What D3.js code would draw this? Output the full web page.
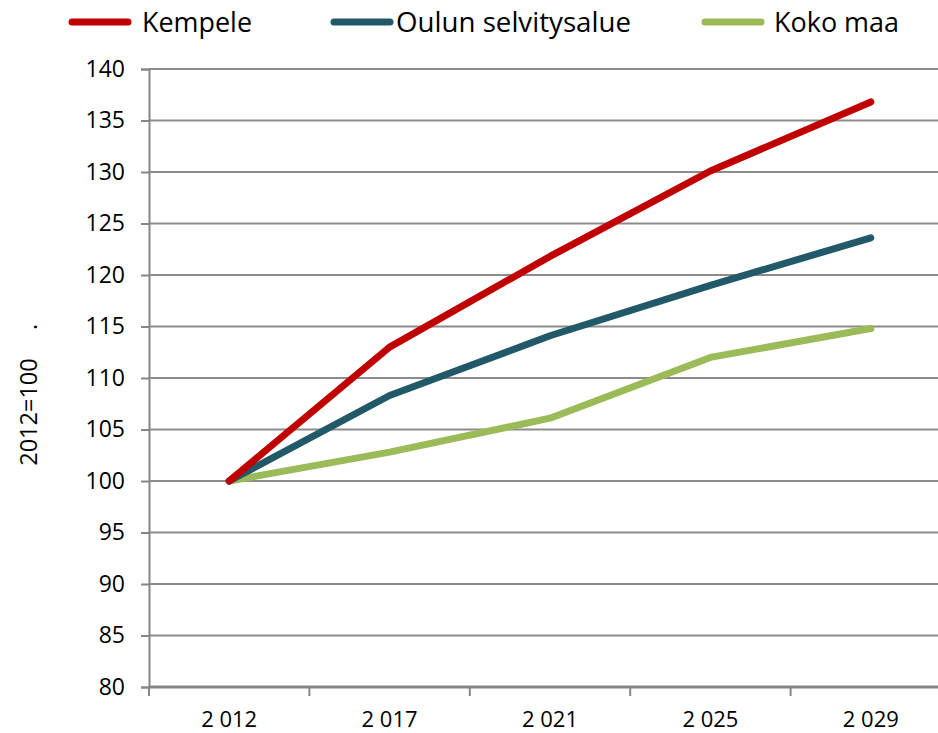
<!DOCTYPE html>
<html>
<head>
<meta charset="utf-8">
<script src="https://cdn.jsdelivr.net/npm/d3@7"></script>
<style>
  body { margin: 0; background: #fff; }
  text { font-family: "Open Sans", sans-serif; fill: #000; }
</style>
</head>
<body>
<script>
// data
var years = ["2 012", "2 017", "2 021", "2 025", "2 029"]
var kempele = [100, 113.0, 121.8, 130.1, 136.8]
var oulu = [100, 108.3, 114.1, 119.0, 123.6]
var kokoMaa = [100, 102.8, 106.1, 112.0, 114.8]
var seriesNames = ["Kempele", "Oulun selvitysalue", "Koko maa"]
var seriesColors = ["#c00000", "#215968", "#9bbb59"]
var yTicks = [80, 85, 90, 95, 100, 105, 110, 115, 120, 125, 130, 135, 140]

var width = 938, height = 733
var margin = {top: 69, right: -13, bottom: 46, left: 149}

var svg = d3.select("body").append("svg")
    .attr("width", width)
    .attr("height", height)

var g = svg.append("g")
    .attr("transform", "translate(" + margin.left + "," + margin.top + ")")

var w = width - margin.left - margin.right
var h = height - margin.top - margin.bottom

var x_scale = d3.scaleBand().domain(years).range([0, w])
var y_scale = d3.scaleLinear().domain([80, 140]).range([h, 0])

// gridlines
g.append("g").selectAll("line")
    .data(yTicks.slice(1))
    .join("line")
    .attr("x1", 0).attr("x2", w)
    .attr("y1", d => y_scale(d)).attr("y2", d => y_scale(d))
    .attr("stroke", "#8c8c8c").attr("stroke-width", 2)

var yAxis = g.append("g")
    .call(d3.axisLeft(y_scale).tickValues(yTicks).tickSize(8).tickPadding(16))
yAxis.select(".domain").attr("stroke", "#868686").attr("stroke-width", 2)
yAxis.selectAll(".tick line").attr("stroke", "#868686").attr("stroke-width", 2)
yAxis.selectAll("text").style("font-size", "23px").style("font-family", "'Open Sans', sans-serif")

// x axis, ticks sit on the band edges
var xAxis = g.append("g").attr("transform", "translate(0," + h + ")")
xAxis.append("line").attr("x1", 0).attr("x2", w)
    .attr("stroke", "#868686").attr("stroke-width", 3)
xAxis.selectAll(".xt")
    .data(years)
    .join("line")
    .attr("x1", d => x_scale(d)).attr("x2", d => x_scale(d))
    .attr("y1", 0).attr("y2", 9)
    .attr("stroke", "#868686").attr("stroke-width", 2)
xAxis.selectAll(".xl")
    .data(years)
    .join("text")
    .attr("x", d => x_scale(d) + x_scale.bandwidth() / 2)
    .attr("y", 40)
    .attr("text-anchor", "middle")
    .style("font-size", "22px")
    .text(d => d)

// lines
var allSeries = [kempele, oulu, kokoMaa]
var line = d3.line()
    .x((d, i) => x_scale(years[i]) + x_scale.bandwidth() / 2)
    .y(d => y_scale(d))

// draw bottom-up so red is on top
for (var s = allSeries.length - 1; s >= 0; s--) {
    g.append("path")
        .datum(allSeries[s])
        .attr("fill", "none")
        .attr("stroke", seriesColors[s])
        .attr("stroke-width", 7)
        .attr("stroke-linecap", "round")
        .attr("stroke-linejoin", "round")
        .attr("d", line)
}

// y title
svg.append("text")
    .attr("transform", "translate(37,412) rotate(-90)")
    .attr("text-anchor", "middle")
    .style("font-size", "23.5px")
    .text("2012=100")
svg.append("text")
    .attr("transform", "translate(37,327) rotate(-90)")
    .attr("text-anchor", "middle")
    .style("font-size", "23.5px")
    .text(".")

// legend
var legendX = [72, 334, 705]
var legendTextX = [142, 396, 774]
var legendTextW = [110, 235, 125]
var legend = svg.append("g")
legend.selectAll("line")
    .data(seriesNames)
    .join("line")
    .attr("x1", (d, i) => legendX[i]).attr("x2", (d, i) => legendX[i] + 56)
    .attr("y1", 22).attr("y2", 22)
    .attr("stroke", (d, i) => seriesColors[i])
    .attr("stroke-width", 7)
    .attr("stroke-linecap", "round")
legend.selectAll("text")
    .data(seriesNames)
    .join("text")
    .attr("x", (d, i) => legendTextX[i])
    .attr("y", 32)
    .attr("textLength", (d, i) => legendTextW[i])
    .attr("lengthAdjust", "spacingAndGlyphs")
    .style("font-size", "28px")
    .text(d => d)
</script>
</body>
</html>
